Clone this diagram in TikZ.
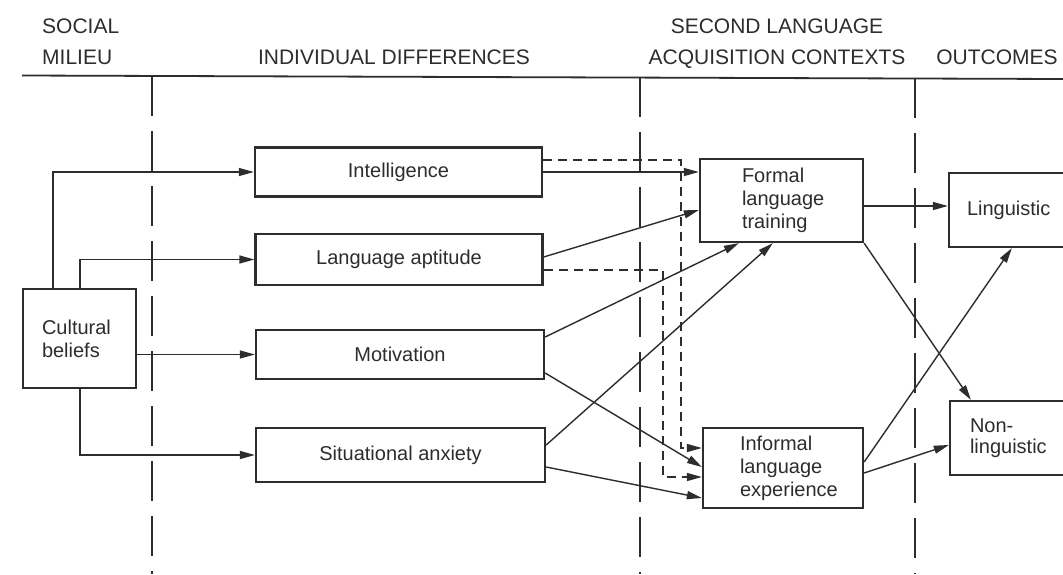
\documentclass[tikz,border=0pt]{standalone}
\usepackage{fontspec}
\setmainfont{Liberation Sans}
\usetikzlibrary{arrows.meta}
\definecolor{ink}{RGB}{45,45,45}
\begin{document}
\begin{tikzpicture}[x=1pt,y=-1pt,
  box/.style={draw=ink,line width=2.3pt,inner sep=0pt,font=\fontsize{20}{23}\selectfont,text=ink},
  hdr/.style={font=\fontsize{21}{24}\selectfont,text=ink,inner sep=0pt},
  arr/.style={draw=ink,line width=1.4pt,-{Triangle[length=15pt,width=8pt]}},
  darr/.style={arr,dash pattern=on 9pt off 6pt},
  divider/.style={draw=ink,line width=1.4pt,dash pattern=on 40pt off 15pt},
  rule/.style={draw=ink,line width=1.8pt}]
\clip (0,0) rectangle (1063,574);
\fill[white] (0,0) rectangle (1063,574);

% headers
\node[hdr,anchor=base west] (h1) at (42,33) {SOCIAL};
\node[hdr,anchor=base west] (h2) at (42,64) {MILIEU};
\node[hdr,anchor=base] (h3) at (394,64) {INDIVIDUAL DIFFERENCES};
\node[hdr,anchor=base] (h4) at (777,33) {SECOND LANGUAGE};
\node[hdr,anchor=base] (h5) at (777,64) {ACQUISITION CONTEXTS};
\node[hdr,anchor=base] (h6) at (997,64) {OUTCOMES};

\draw[rule] (22,75.5) -- (1063,79);
\draw[divider] (152,76) -- (152,574);
\draw[divider] (640,77) -- (640,574);
\draw[divider] (915,78) -- (915,574);

% boxes
\node[box,minimum width=113pt,minimum height=99pt,text width=75pt,align=left] (cult) at (79.5,338.5) {Cultural\\beliefs};
\node[box,minimum width=287pt,minimum height=49pt] (intel) at (398.5,172) {Intelligence};
\node[box,minimum width=287pt,minimum height=51pt] (apt) at (399,259.5) {Language aptitude};
\node[box,minimum width=288pt,minimum height=49pt] (motiv) at (400,354.5) {Motivation};
\node[box,minimum width=289pt,minimum height=54pt] (anx) at (400.5,455) {Situational anxiety};
\node[box,minimum width=163pt,minimum height=83pt,text width=79pt,align=left] (formal) at (781.5,200.5) {Formal\\language\\training};
\node[box,minimum width=160pt,minimum height=80pt,text width=86pt,align=left] (informal) at (783,468) {Informal\\language\\experience};
\node[box,minimum width=126pt,minimum height=74pt,text width=90pt,align=left] (ling) at (1012,210) {Linguistic};
\node[box,minimum width=126pt,minimum height=74pt,text width=86pt,align=left,font=\fontsize{20}{21}\selectfont] (nonling) at (1013,438) {Non-\\linguistic};

% social milieu -> individual differences
\draw[arr] ([xshift=31pt]cult.north west) |- (intel.west);
\draw[arr] ([xshift=58pt]cult.north west) |- (apt.west);
\draw[arr] (cult.east |- motiv.west) -- (motiv.west);
\draw[arr] ([xshift=58pt]cult.south west) |- (anx.west);

% individual differences -> contexts
\draw[arr] (intel.east) -- (formal.west |- intel.east);
\draw[darr] ([yshift=12pt]intel.east) -| ([xshift=-21pt,yshift=20pt]informal.west) -- ([yshift=20pt]informal.west);
\draw[arr] ([yshift=2.5pt]apt.east) -- ([yshift=-9.5pt]formal.west);
\draw[darr] ([yshift=-10.5pt]apt.east) -| ([xshift=-39pt,yshift=-9pt]informal.west) -- ([yshift=-9pt]informal.west);
\draw[arr] ([yshift=17.5pt]motiv.east) -- ([xshift=40pt]formal.south west);
\draw[arr] ([yshift=-18.5pt]motiv.east) -- ([yshift=1pt]informal.west);
\draw[arr] ([yshift=10pt]anx.east) -- ([xshift=74pt]formal.south west);
\draw[arr] ([yshift=-12pt]anx.east) -- ([yshift=-30pt]informal.west);

% contexts -> outcomes
\coordinate (fl) at ([yshift=-5.5pt]formal.east);
\draw[arr] (fl) -- (fl -| ling.west);
\draw[arr] (formal.south east) -- ([xshift=22pt]nonling.north west);
\draw[arr] ([yshift=6pt]informal.east) -- ([xshift=64pt]ling.south west);
\draw[arr] ([yshift=-5pt]informal.east) -- ([yshift=-7pt]nonling.west);
\end{tikzpicture}
\end{document}
